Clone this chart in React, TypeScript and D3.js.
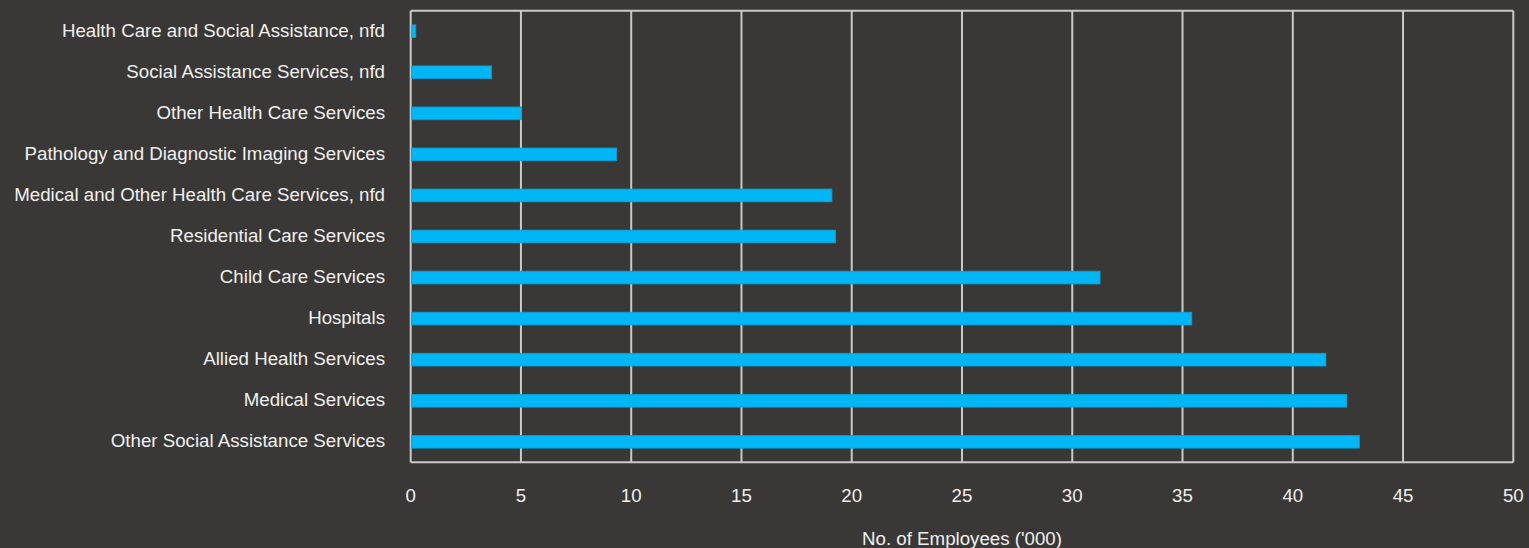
import React from "react";
import * as d3 from "d3";

const categories = [
  "Health Care and Social Assistance, nfd",
  "Social Assistance Services, nfd",
  "Other Health Care Services",
  "Pathology and Diagnostic Imaging Services",
  "Medical and Other Health Care Services, nfd",
  "Residential Care Services",
  "Child Care Services",
  "Hospitals",
  "Allied Health Services",
  "Medical Services",
  "Other Social Assistance Services",
];
const employees = [0.23, 3.67, 5.02, 9.34, 19.1, 19.27, 31.26, 35.42, 41.5, 42.45, 43.02];
const xTicks = [0, 5, 10, 15, 20, 25, 30, 35, 40, 45, 50];
const xTitle = "No. of Employees ('000)";

const W = 1529;
const H = 548;
const M = { left: 410.7, right: 1513.3, top: 10.7, bottom: 462.3 };
const FONT = "'Liberation Sans', Arial, sans-serif";
const FS = 18.7;

export default function App() {
  const x = d3.scaleLinear().domain([0, 50]).range([M.left, M.right]);
  const y = d3
    .scaleBand<string>()
    .domain(categories)
    .range([M.top, M.bottom])
    .paddingInner(0.69)
    .paddingOuter(0.345);

  return (
    <svg
      width={W}
      height={H}
      style={{ position: "absolute", left: 0, top: 0, display: "block" }}
    >
      <rect x={0} y={0} width={W} height={H} fill="#3a3836" />
      {xTicks.map((t) => (
        <line
          key={"g" + t}
          x1={x(t)}
          x2={x(t)}
          y1={M.top}
          y2={M.bottom}
          stroke="#c9c9c9"
          strokeWidth={2}
        />
      ))}
      <line x1={M.left} x2={M.right} y1={M.top} y2={M.top} stroke="#c9c9c9" strokeWidth={2} />
      <line x1={M.left} x2={M.right} y1={M.bottom} y2={M.bottom} stroke="#c9c9c9" strokeWidth={2} />
      {categories.map((c, i) => (
        <rect
          key={c}
          x={x(0) + 1}
          y={y(c)!}
          width={x(employees[i]) - x(0) - 1}
          height={y.bandwidth()}
          fill="#00b6f4"
          stroke="#0a9fd6"
          strokeWidth={0.8}
        />
      ))}
      {categories.map((c) => (
        <text
          key={"l" + c}
          x={385}
          y={y(c)! + y.bandwidth() / 2 - 1}
          dy="0.35em"
          textAnchor="end"
          fill="#f0f0f0"
          fontFamily={FONT}
          fontSize={FS}
        >
          {c}
        </text>
      ))}
      {xTicks.map((t) => (
        <text
          key={"t" + t}
          x={x(t)}
          y={495}
          dy="0.35em"
          textAnchor="middle"
          fill="#f0f0f0"
          fontFamily={FONT}
          fontSize={FS}
        >
          {t}
        </text>
      ))}
      <text
        x={962}
        y={538}
        dy="0.35em"
        textAnchor="middle"
        fill="#f0f0f0"
        fontFamily={FONT}
        fontSize={FS}
      >
        {xTitle}
      </text>
    </svg>
  );
}
